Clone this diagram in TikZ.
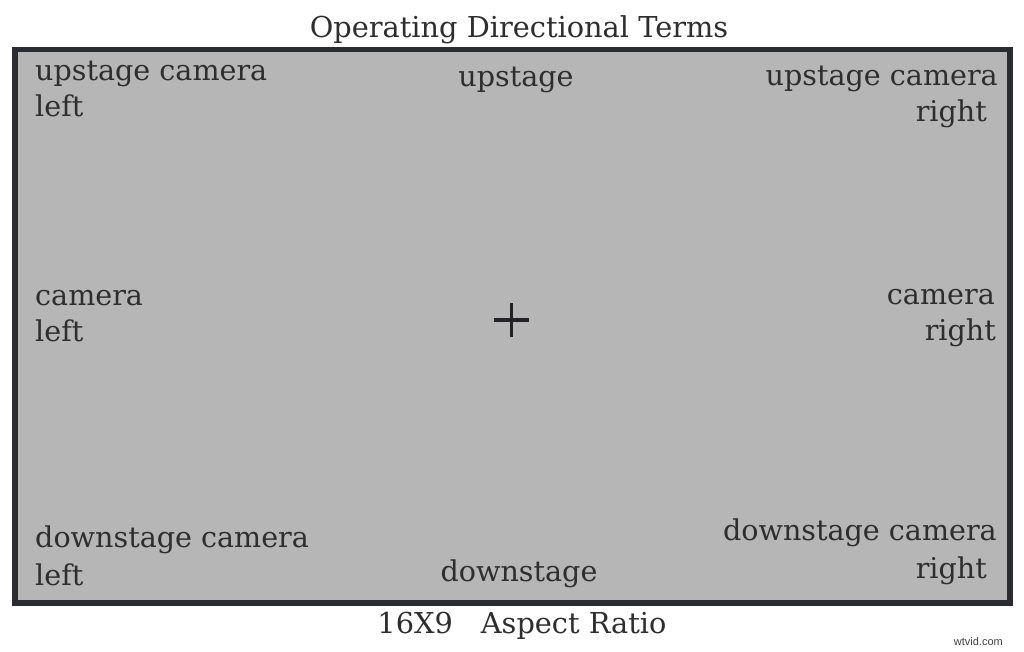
\documentclass[tikz,border=0pt]{standalone}
\usepackage{fontspec}
\setmainfont{DejaVu Serif}
\newfontfamily\wmfont{Liberation Sans}
\definecolor{fillgray}{HTML}{B6B6B6}
\definecolor{framecol}{HTML}{2B2C30}
\definecolor{txt}{HTML}{2E2E2E}
\begin{document}
\begin{tikzpicture}[x=1pt,y=-1pt,
  lbl/.style={inner sep=0pt,text=txt,font=\fontsize{28.6}{30}\selectfont},
  ttl/.style={inner sep=0pt,text=txt,font=\fontsize{28.8}{30}\selectfont}]
\useasboundingbox (0,0) rectangle (1024,651);
\fill[white] (0,0) rectangle (1024,651);
\draw[framecol,line width=5.5pt,fill=fillgray] (15,49.5) rectangle (1010,603);
\node[ttl,anchor=base] (title) at (519,37) {Operating Directional Terms};
% top row
\node[lbl,anchor=base west] (ulA) at (35,80) {upstage camera};
\node[lbl,anchor=base west] (ulB) at (35,116) {left};
\node[lbl,anchor=base] (up) at (516,86) {upstage};
\node[lbl,anchor=base east] (urA) at (998,85) {upstage camera};
\node[lbl,anchor=base east] (urB) at (987,121) {right};
% middle row
\node[lbl,anchor=base west] (clA) at (35,305) {camera};
\node[lbl,anchor=base west] (clB) at (35,341) {left};
\node[lbl,anchor=base east] (crA) at (995,304) {camera};
\node[lbl,anchor=base east] (crB) at (996,340) {right};
% bottom row
\node[lbl,anchor=base west] (dlA) at (35,547) {downstage camera};
\node[lbl,anchor=base west] (dlB) at (35,585) {left};
\node[lbl,anchor=base] (down) at (519,581) {downstage};
\node[lbl,anchor=base east] (drA) at (997,540) {downstage camera};
\node[lbl,anchor=base east] (drB) at (987,578) {right};
% centre cross
\coordinate (c) at (511.5,320);
\draw[framecol!80!black,line width=3.8pt] (494,320) -- (529,320) (511.5,303) -- (511.5,337);
\node[ttl,anchor=base] (aspect) at (522,633) {16X9\hspace{28pt}Aspect Ratio};
\node[inner sep=0pt,anchor=base east,text=black!75,font=\wmfont\fontsize{11}{13}\selectfont] (wm) at (1003,645) {wtvid.com};
\end{tikzpicture}
\end{document}
